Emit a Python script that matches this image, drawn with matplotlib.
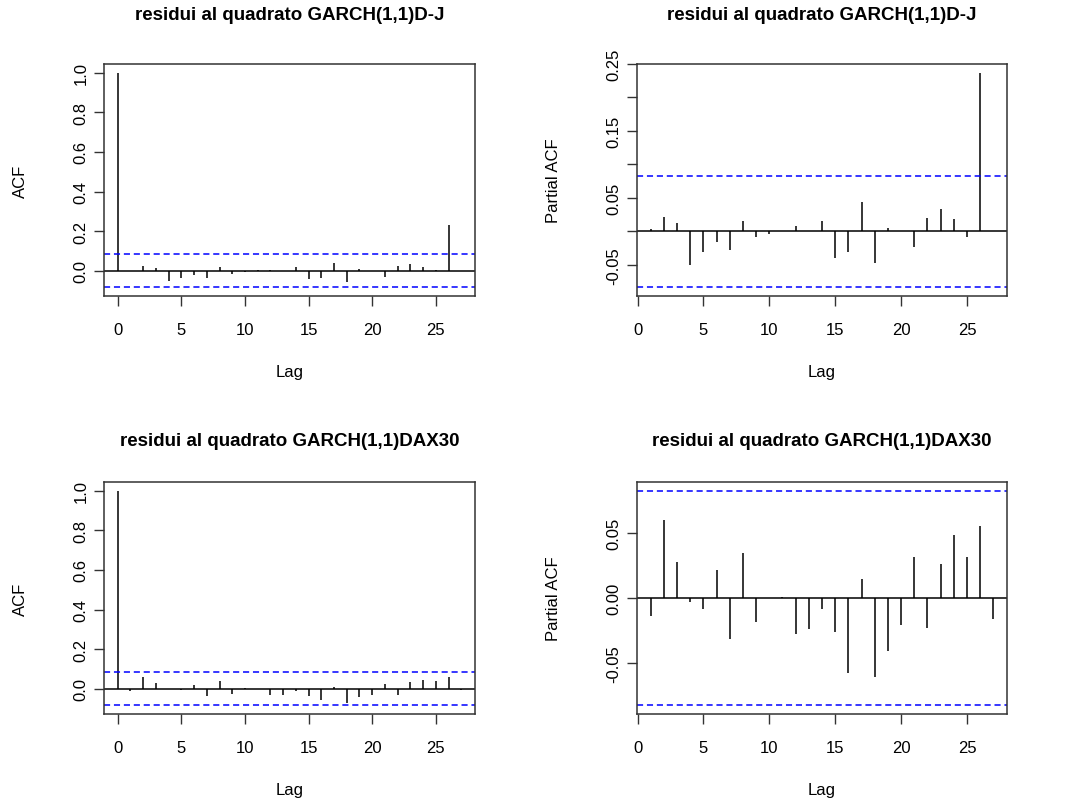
import numpy as np
import matplotlib
matplotlib.use("Agg")
import matplotlib.pyplot as plt

plt.rcParams['font.family'] = ['Liberation Sans', 'DejaVu Sans']

# ACF / PACF of squared GARCH(1,1) residuals
acf_dj = [1.0, 0.001, 0.024, 0.012, -0.051, -0.037, -0.020, -0.037, 0.019, -0.014,
          -0.007, 0.002, 0.002, 0.001, 0.019, -0.041, -0.037, 0.039, -0.056, 0.007,
          0.001, -0.029, 0.024, 0.034, 0.020, 0.002, 0.233, 0.001]
pacf_dj = [0.003, 0.021, 0.013, -0.050, -0.030, -0.015, -0.028, 0.015, -0.008, -0.004,
           0.001, 0.008, 0.001, 0.016, -0.040, -0.030, 0.044, -0.047, 0.005, 0.001,
           -0.023, 0.020, 0.034, 0.018, -0.008, 0.237, 0.001]
acf_dax = [1.0, -0.010, 0.059, 0.029, -0.002, -0.007, 0.022, -0.034, 0.039, -0.024,
           0.007, -0.002, -0.030, -0.030, -0.008, -0.035, -0.055, 0.010, -0.071, -0.040,
           -0.029, 0.024, -0.029, 0.034, 0.045, 0.039, 0.061, -0.005]
pacf_dax = [-0.0137, 0.060, 0.028, -0.0034, -0.0088, 0.0216, -0.032, 0.035, -0.0186, -0.0003,
            0.001, -0.028, -0.024, -0.0088, -0.026, -0.058, 0.0144, -0.061, -0.041, -0.021,
            0.032, -0.023, 0.026, 0.049, 0.032, 0.056, -0.016]
ci_dj = 0.0835
ci_dax = 0.083

title_dj = "residui al quadrato GARCH(1,1)D-J"
title_dax = "residui al quadrato GARCH(1,1)DAX30"

W, H = 1067, 803
fig = plt.figure(figsize=(W / 100, H / 100), dpi=100)


def box(l, t, r, b):
    return [l / W, (H - b) / H, (r - l) / W, (b - t) / H]


def acfplot(rect, vals, ci, ylab, pacf, title, ty, yticks, ylabels):
    ax = fig.add_axes(rect)
    lags = np.arange(1, len(vals) + 1) if pacf else np.arange(len(vals))
    ax.vlines(lags, 0, vals, color='black', lw=1.1)
    ax.axhline(0, color='black', lw=1.1)
    ax.axhline(ci, color='blue', lw=1.1, ls=(0, (4, 2.5)))
    ax.axhline(-ci, color='blue', lw=1.1, ls=(0, (4, 2.5)))
    lo = min(min(vals), -ci)
    hi = max(max(vals), ci)
    pad = 0.04 * (hi - lo)
    ax.set_ylim(lo - pad, hi + pad)
    xp = 0.04 * (lags[-1] - lags[0])
    ax.set_xlim(lags[0] - xp, lags[-1] + xp)
    ax.set_xticks([0, 5, 10, 15, 20, 25])
    ax.set_yticks(yticks)
    ax.set_yticklabels(ylabels)
    ax.tick_params(direction='out', length=7, width=1, labelsize=12, color='#333333')
    ax.tick_params(axis='x', pad=12)
    ax.tick_params(axis='y', pad=4)
    plt.setp(ax.get_yticklabels(), rotation=90, va='center')
    for s in ax.spines.values():
        s.set_color('#333333')
        s.set_linewidth(1.1)
    ax.set_xlabel('Lag', fontsize=12)
    ax.xaxis.set_label_coords(0.5, -0.295)
    ax.set_ylabel(ylab, fontsize=12)
    ax.yaxis.set_label_coords(-0.205, 0.5)
    cx = (rect[0] + rect[2] / 2)
    fig.text(cx, 1 - ty / H, title, ha='center', va='center', fontsize=13.5, fontweight='bold')
    return ax


acfplot(box(104, 65, 475, 297), acf_dj, ci_dj, 'ACF', False, title_dj, 16,
        [0, 0.2, 0.4, 0.6, 0.8, 1.0], ['0.0', '0.2', '0.4', '0.6', '0.8', '1.0'])
acfplot(box(637, 65, 1007, 297), pacf_dj, ci_dj, 'Partial ACF', True, title_dj, 16,
        [-0.05, 0, 0.05, 0.10, 0.15, 0.20, 0.25], ['-0.05', '', '0.05', '', '0.15', '', '0.25'])
acfplot(box(104, 483, 475, 715), acf_dax, ci_dax, 'ACF', False, title_dax, 442,
        [0, 0.2, 0.4, 0.6, 0.8, 1.0], ['0.0', '0.2', '0.4', '0.6', '0.8', '1.0'])
acfplot(box(637, 483, 1007, 715), pacf_dax, ci_dax, 'Partial ACF', True, title_dax, 442,
        [-0.05, 0, 0.05], ['-0.05', '0.00', '0.05'])

fig.savefig('out.png', dpi=100)
